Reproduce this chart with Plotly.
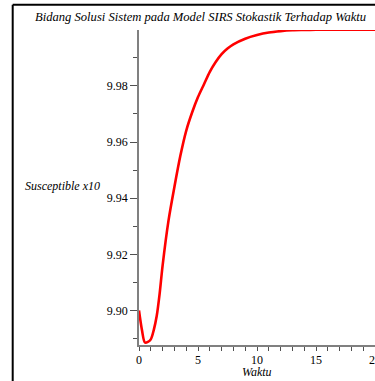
import plotly.graph_objects as go

# Data
t_vals = [0, 0.25, 0.5, 0.75, 1.0, 1.25, 1.5, 1.75, 2.0, 2.5, 3.0, 3.5, 4.0, 4.5,
          5.0, 5.5, 6.0, 6.5, 7.0, 7.5, 8.0, 9.0, 10.0, 11.0, 12.0, 13.0, 14.0,
          15.0, 16.0, 17.0, 18.0, 19.0, 20.0]
s_vals = [9.900, 9.893, 9.8886, 9.8888, 9.8897, 9.893, 9.898, 9.906, 9.916, 9.932,
          9.944, 9.955, 9.964, 9.9705, 9.976, 9.9805, 9.9850, 9.9885, 9.9913, 9.9933,
          9.9948, 9.9968, 9.9981, 9.9990, 9.9995, 9.9998, 9.9999, 10.0, 10.0,
          10.0, 10.0, 10.0, 10.0]
x_major = [0, 5, 10, 15, 20]
y_major = [9.90, 9.92, 9.94, 9.96, 9.98]
y_minor = [9.89, 9.91, 9.93, 9.95, 9.97, 9.99]
title_text = "Bidang Solusi Sistem pada Model SIRS Stokastik Terhadap Waktu"
y_label = "Susceptible x10"
x_label = "Waktu"

W, H = 375, 381
plot_left, plot_top, plot_bottom = 139, 30, 345.5
L, T, B, R = plot_left, plot_top, H - plot_bottom, 0
pw, ph = W - L - R, H - T - B

def px(x):
    return (x - plot_left) / pw

def py(y):
    return (plot_bottom - y) / ph

fig = go.Figure()
fig.add_trace(go.Scatter(x=t_vals, y=s_vals, mode="lines",
                         line=dict(color="#ff0000", width=2.6, shape="spline", smoothing=0.8),
                         cliponaxis=False, hoverinfo="skip"))

axis_font = dict(family="Liberation Serif", size=12, color="#000000")
fig.update_layout(
    width=W, height=H,
    margin=dict(l=L, r=R, t=T, b=B, pad=0, autoexpand=False),
    paper_bgcolor="white", plot_bgcolor="white",
    showlegend=False,
    xaxis=dict(range=[0, 20], showgrid=False, zeroline=False, automargin=False,
               showline=True, linecolor="#808080", linewidth=1.5,
               tickmode="array", tickvals=x_major, ticktext=[str(v) for v in x_major],
               ticks="outside", ticklen=4, tickwidth=1, tickcolor="#505050",
               minor=dict(dtick=1, ticks="outside", ticklen=4, tickwidth=1, tickcolor="#505050"),
               tickfont=axis_font, ticklabeloverflow="allow", ticklabelstandoff=-1,
               fixedrange=True),
    yaxis=dict(range=[9.8877, 9.9999], showgrid=False, zeroline=False, automargin=False,
               showline=True, linecolor="#808080", linewidth=1.5,
               tickmode="array", tickvals=y_major, ticktext=["%.2f" % v for v in y_major],
               ticks="outside", ticklen=7, tickwidth=1, tickcolor="#505050",
               minor=dict(tickvals=y_minor, ticks="outside",
                          ticklen=4, tickwidth=1, tickcolor="#505050"),
               tickfont=axis_font, fixedrange=True),
    annotations=[
        dict(text="<i>%s</i>" % title_text, x=px(200), y=py(17), xref="paper", yref="paper",
             showarrow=False, xanchor="center", yanchor="middle",
             font=dict(family="Liberation Serif", size=12.6, color="#000000")),
        dict(text="<i>%s</i>" % y_label, x=px(62), y=py(186), xref="paper", yref="paper",
             showarrow=False, xanchor="center", yanchor="middle",
             font=dict(family="Liberation Serif", size=12, color="#000000")),
        dict(text="<i>%s</i>" % x_label, x=px(257), y=py(372.5), xref="paper", yref="paper",
             showarrow=False, xanchor="center", yanchor="middle",
             font=dict(family="Liberation Serif", size=12, color="#000000")),
    ],
    shapes=[
        dict(type="line", xref="paper", yref="paper", x0=px(12.7), x1=px(12.7),
             y0=py(4.8), y1=py(400), line=dict(color="#000000", width=2)),
        dict(type="line", xref="paper", yref="paper", x0=px(12.7), x1=px(400),
             y0=py(4.8), y1=py(4.8), line=dict(color="#000000", width=2)),
    ],
)
fig.write_html("out.html", config={"displayModeBar": False},
               post_script="document.body.style.margin='0px';")
